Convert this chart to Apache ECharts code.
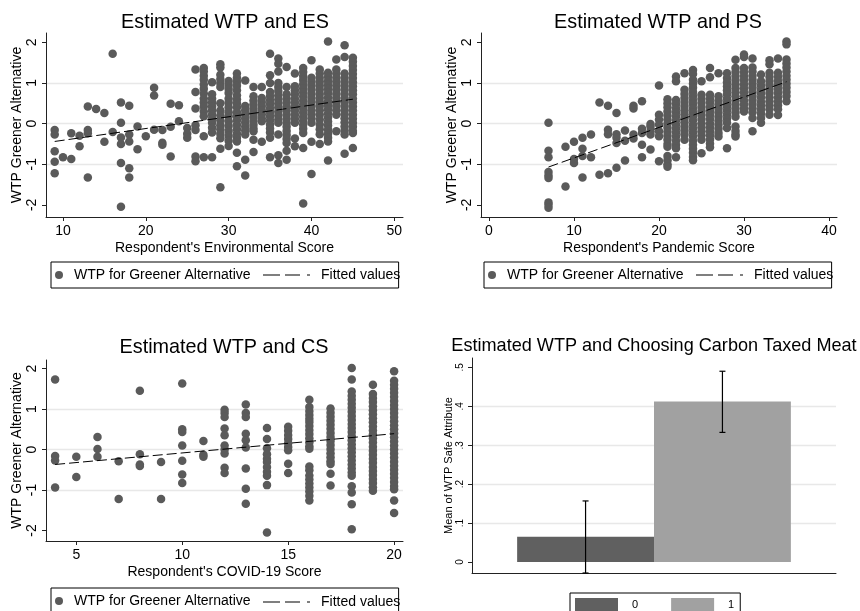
<!DOCTYPE html>
<html><head><meta charset="utf-8">
<script src="https://cdn.jsdelivr.net/npm/echarts@6/dist/echarts.min.js"></script>
<style>html,body{margin:0;padding:0;background:#fff}#c{width:860px;height:611px}</style>
</head><body><div id="c"></div>
<script>
// ---------- data ----------
const esScores = [9,10,11,12,13,14,15,16,17,18,19,20,21,22,23,24,25,26,27,28,29,30,31,32,33,34,35,36,37,38,39,40,41,42,43,44,45];
const esWtp = [
 [-0.16,-0.27,-0.68,-0.94,-1.22],
 [-0.83],
 [-0.24,-0.87],
 [-0.30,-0.56],
 [0.42,-0.16,-0.24,-1.33],
 [0.36],
 [0.26,-0.45],
 [1.72,-0.21],
 [0.52,0.02,-0.34,-0.50,-0.97,-2.05],
 [0.44,-0.27,-0.44,-1.10,-1.33],
 [-0.07,-0.63],
 [-0.31],
 [0.88,0.69,-0.15],
 [-0.16,-0.47,-0.52],
 [0.49,-0.08,-0.81],
 [0.45,0.06],
 [-0.11,-0.25,-0.35],
 [1.33,0.78,0.37,-0.04,-0.16,-0.81,-0.93],
 [1.37,1.28,1.18,1.08,0.96,0.86,0.74,0.62,0.52,0.42,0.30,0.18,-0.31,-0.83],
 [1.02,0.72,0.62,0.52,0.42,0.32,0.22,0.12,0.02,-0.10,-0.22,-0.83],
 [1.46,1.38,1.20,1.10,1.00,0.90,0.50,0.32,0.20,0.08,-0.04,-0.14,-0.25,-0.36,-0.62,-1.57],
 [1.05,0.95,0.85,0.75,0.62,0.52,0.40,0.28,0.18,0.06,-0.06,-0.18,-0.30,-0.42,-0.55],
 [1.23,1.13,1.03,0.93,0.82,0.70,0.60,0.50,0.40,0.28,0.18,0.08,-0.03,-0.14,-0.25,-0.35,-0.44,-0.72,-1.05],
 [1.06,0.43,0.33,0.23,0.13,0.03,-0.07,-0.17,-0.27,-0.89,-1.28],
 [0.90,0.67,0.57,0.47,0.37,0.27,0.17,0.07,-0.03,-0.12,-0.19,-0.40,-0.70],
 [0.90,0.63,0.53,0.43,0.33,0.23,0.13,0.06,-0.45],
 [1.72,1.19,1.00,0.78,0.68,0.58,0.48,0.38,0.28,0.18,0.08,-0.02,-0.12,-0.22,-0.35,-0.83],
 [1.60,1.47,1.28,1.00,0.90,0.80,0.70,0.60,0.50,0.40,0.30,0.20,0.10,0.02,-0.27,-0.78,-0.97],
 [1.39,0.90,0.72,0.62,0.52,0.42,0.32,0.22,0.12,0.02,-0.08,-0.18,-0.28,-0.38,-0.48,-0.67,-0.89],
 [1.23,0.92,0.82,0.72,0.62,0.52,0.42,0.32,0.22,0.12,0.02,-0.37,-0.56],
 [1.37,1.27,1.17,1.07,0.97,0.87,0.77,0.67,0.57,0.47,0.37,0.27,0.17,0.07,-0.03,-0.13,-0.23,-0.60,-1.97],
 [1.56,1.13,1.03,0.93,0.83,0.73,0.63,0.53,0.43,0.33,0.23,0.13,0.02,-0.45,-1.24],
 [1.33,1.23,1.13,1.03,0.93,0.83,0.73,0.63,0.53,0.43,0.33,0.22,0.10,-0.02,-0.14,-0.26,-0.50],
 [2.02,1.25,1.15,1.05,0.95,0.85,0.75,0.65,0.55,0.45,0.35,0.25,0.15,0.05,-0.05,-0.15,-0.25,-0.35,-0.44,-0.91],
 [1.58,1.33,1.23,1.13,1.03,0.93,0.83,0.73,0.63,0.53,0.43,0.33,0.22,-0.19],
 [1.93,1.64,1.23,1.13,1.03,0.93,0.83,0.73,0.63,0.53,0.43,0.33,0.23,0.13,0.03,-0.07,-0.17,-0.27,-0.74],
 [1.62,1.52,1.42,1.32,1.22,1.12,1.02,0.92,0.82,0.72,0.62,0.52,0.42,0.32,0.22,0.12,0.02,-0.08,-0.18,-0.23,-0.60]
];
const esFitX = [9, 45];
const esFitY = [-0.44, 0.60];

const psScores = [7,9,10,11,12,13,14,15,16,17,18,19,20,21,22,23,24,25,26,27,28,29,30,31,32,33,34,35];
const psWtp = [
 [0.02,-0.67,-0.83,-1.19,-1.28,-1.34,-1.94,-2.00,-2.07],
 [-0.57,-1.55],
 [-0.45,-0.87,-0.97],
 [-0.35,-0.62,-0.80,-1.33],
 [-0.27,-0.83],
 [0.52,-1.26],
 [0.44,-0.15,-0.26,-1.22],
 [0.26,-0.26,-0.35,-0.48,-1.09],
 [-0.17,-0.42,-0.91],
 [0.44,0.37,-0.27,-0.37],
 [0.55,-0.13,-0.23,-0.52,-0.83],
 [-0.01,-0.07,-0.19,-0.27,-0.64],
 [0.94,0.22,0.10,-0.02,-0.19,-0.31,-0.93],
 [0.60,0.50,0.40,0.30,0.20,0.10,0.00,-0.10,-0.20,-0.30,-0.40,-0.50,-0.57,-0.80,-0.90,-1.00,-1.06],
 [1.16,1.04,0.58,0.48,0.38,0.28,0.18,0.08,-0.02,-0.12,-0.22,-0.32,-0.42,-0.52,-0.61,-0.83],
 [1.24,0.83,0.73,0.63,0.53,0.43,0.33,0.23,0.13,0.03,-0.07,-0.17,-0.27,-0.40],
 [1.32,1.22,1.08,0.98,0.88,0.78,0.68,0.58,0.48,0.38,0.28,0.18,0.08,-0.02,-0.12,-0.22,-0.32,-0.42,-0.52,-0.62,-0.72,-0.82,-0.90],
 [1.04,0.71,0.61,0.51,0.41,0.31,0.21,0.11,0.01,-0.09,-0.19,-0.29,-0.40,-0.73],
 [1.37,1.14,0.71,0.61,0.51,0.41,0.31,0.21,0.11,0.01,-0.09,-0.19,-0.29,-0.39,-0.49,-0.58],
 [1.24,0.67,0.57,0.47,0.37,0.27,0.17,0.07,-0.03,-0.13,-0.23,-0.32],
 [1.24,1.12,1.02,0.92,0.82,0.72,0.62,0.52,0.42,0.32,0.22,0.12,0.02,-0.11,-0.61],
 [1.57,1.37,1.27,1.17,1.07,0.97,0.87,0.77,0.67,0.57,0.47,0.37,0.27,0.17,-0.07,-0.18,-0.27,-0.32],
 [1.70,1.64,1.37,1.27,1.17,1.07,0.97,0.87,0.77,0.67,0.57,0.47,0.37,0.30],
 [1.60,1.38,1.28,1.18,1.08,0.98,0.88,0.78,0.68,0.58,0.48,0.38,0.28,0.14,-0.19],
 [1.21,1.04,0.94,0.84,0.74,0.64,0.54,0.44,0.34,0.24,0.14,0.02],
 [1.56,1.46,1.25,1.15,1.05,0.95,0.85,0.75,0.65,0.55,0.45,0.35,0.22],
 [1.60,1.25,1.15,1.05,0.95,0.85,0.75,0.65,0.55,0.45,0.35,0.21],
 [2.02,1.95,1.58,1.48,1.38,1.28,1.18,1.08,0.98,0.88,0.78,0.68,0.55]
];
const psFitX = [7, 35];
const psFitY = [-1.07, 1.03];

const csScores = [4,5,6,7,8,9,10,11,12,13,14,15,16,17,18,19,20];
const csWtp = [
 [1.73,-0.16,-0.27,-0.94],
 [-0.18,-0.68],
 [0.31,0.01,-0.18],
 [-0.29,-1.22],
 [1.45,-0.12,-0.37,-0.41],
 [-0.31,-1.22],
 [1.63,0.50,0.43,0.10,-0.28,-0.62,-0.83],
 [0.21,-0.13,-0.18],
 [0.98,0.90,0.80,0.52,0.35,0.10,0.00,-0.10,-0.45,-0.58],
 [1.11,0.90,0.80,0.39,0.23,0.05,-0.47,-0.97,-1.34],
 [0.53,0.26,0.03,-0.12,-0.23,-0.31,-0.43,-0.55,-0.65,-0.88,-2.05],
 [0.56,0.46,0.36,0.26,0.16,0.06,-0.02,-0.35,-0.58],
 [1.23,1.05,0.95,0.85,0.76,0.68,0.58,0.48,0.38,0.28,0.18,0.08,0.02,-0.42,-0.51,-0.64,-0.74,-0.84,-0.94,-1.04,-1.14,-1.26],
 [1.01,0.91,0.81,0.71,0.61,0.51,0.41,0.31,0.21,0.11,0.01,-0.09,-0.19,-0.29,-0.36,-0.60,-0.89],
 [2.01,1.73,1.43,1.33,1.23,1.13,1.03,0.93,0.83,0.73,0.63,0.53,0.43,0.33,0.23,0.13,0.03,-0.07,-0.17,-0.27,-0.37,-0.47,-0.57,-0.65,-0.91,-1.06,-1.35,-1.97],
 [1.60,1.37,1.27,1.17,1.07,0.97,0.87,0.77,0.67,0.57,0.47,0.37,0.27,0.17,0.07,-0.03,-0.13,-0.23,-0.33,-0.43,-0.53,-0.63,-0.73,-0.83,-0.93,-1.02],
 [1.93,1.70,1.60,1.50,1.40,1.30,1.20,1.10,1.00,0.90,0.80,0.70,0.60,0.50,0.40,0.30,0.20,0.10,0.00,-0.10,-0.20,-0.30,-0.40,-0.50,-0.60,-0.70,-0.80,-0.90,-0.98,-1.26,-1.57]
];
const csFitX = [4, 20];
const csFitY = [-0.37, 0.39];

const meatGroups = ['0', '1'];
const meatMeans = [0.065, 0.412];
const meatCiLow = [-0.028, 0.333];
const meatCiHigh = [0.157, 0.490];

const wtpTicks = [-2, -1, 0, 1, 2];
const esTicks = [10, 20, 30, 40, 50];
const psTicks = [0, 10, 20, 30, 40];
const csTicks = [5, 10, 15, 20];
const meatTicks = [0, 0.1, 0.2, 0.3, 0.4, 0.5];
const meatTickLabels = ['0', '.1', '.2', '.3', '.4', '.5'];

const titles = ['Estimated WTP and ES', 'Estimated WTP and PS', 'Estimated WTP and CS', 'Estimated WTP and Choosing Carbon Taxed Meat'];
const xNames = ["Respondent's Environmental Score", "Respondent's Pandemic Score", "Respondent's COVID-19 Score"];
const yName = 'WTP Greener Alternative';
const yNameBar = 'Mean of WTP Safe Attribute';
const scatterName = 'WTP for Greener Alternative';
const fitName = 'Fitted values';

// ---------- build ----------
const FONT = "'Liberation Sans', Arial, Helvetica, sans-serif";
const PT = '#5a5a5a';
function pts(scores, wtp) { const o = []; scores.forEach((s, i) => wtp[i].forEach(v => o.push([s, v]))); return o; }
function fit(xs, ys) { return xs.map((x, i) => [x, ys[i]]); }

const grids = [
  {left: 46, top: 33, width: 357, height: 184},
  {left: 481, top: 33, width: 356, height: 184},
  {left: 46, top: 360, width: 357, height: 181},
  {left: 472, top: 358, width: 364, height: 215}
];
const xr = [[7.95, 51.05], [-0.94, 40.94], [3.57, 20.42]];
const yr = [[-2.30, 2.23], [-2.30, 2.23], [-2.26, 2.21]];
const xt = [esTicks, psTicks, csTicks];
const axisLine = {onZero: false, lineStyle: {color: '#222', width: 1}};

const xAxis = [], yAxis = [], series = [];
for (let i = 0; i < 3; i++) {
  xAxis.push({type: 'value', gridIndex: i, min: xr[i][0], max: xr[i][1],
    name: xNames[i], nameLocation: 'middle', nameGap: 24,
    nameTextStyle: {fontSize: 14, color: '#000', fontFamily: FONT},
    axisLine: axisLine, splitLine: {show: false},
    axisTick: {customValues: xt[i], length: 4, lineStyle: {color: '#222'}},
    axisLabel: {customValues: xt[i], fontSize: 14, color: '#000', fontFamily: FONT, margin: 7}});
  yAxis.push({type: 'value', gridIndex: i, min: yr[i][0], max: yr[i][1], splitNumber: 5,
    name: yName, nameLocation: 'middle', nameGap: 14,
    nameTextStyle: {fontSize: 14, color: '#000', fontFamily: FONT},
    axisLine: {show: true, onZero: false, lineStyle: {color: '#222', width: 1}},
    splitLine: {show: true, showMinLine: false, showMaxLine: false, lineStyle: {color: '#e8e8e8', width: 1.3}},
    axisTick: {show: true, customValues: wtpTicks, length: 4, lineStyle: {color: '#222'}},
    axisLabel: {customValues: wtpTicks, rotate: 90, fontSize: 14, color: '#000', fontFamily: FONT, margin: 7}});
}
const sets = [[esScores, esWtp, esFitX, esFitY], [psScores, psWtp, psFitX, psFitY], [csScores, csWtp, csFitX, csFitY]];
sets.forEach((s, i) => {
  series.push({type: 'scatter', name: scatterName, xAxisIndex: i, yAxisIndex: i, data: pts(s[0], s[1]),
    symbol: 'circle', symbolSize: 8.5, itemStyle: {color: PT, opacity: 1}, silent: true, z: 2});
  series.push({type: 'line', name: fitName, xAxisIndex: i, yAxisIndex: i, data: fit(s[2], s[3]),
    symbol: 'none', showSymbol: false, silent: true, z: 3,
    lineStyle: {color: '#000', width: 1, type: [10, 4]}, itemStyle: {color: '#000'}});
});

// bar panel
xAxis.push({type: 'category', gridIndex: 3, data: [''], boundaryGap: true,
  axisLine: axisLine, axisTick: {show: false}, axisLabel: {show: false}, splitLine: {show: false}});
yAxis.push({type: 'value', gridIndex: 3, min: -0.028, max: 0.524, splitNumber: 5,
  name: yNameBar, nameLocation: 'middle', nameGap: 15,
  nameTextStyle: {fontSize: 11, color: '#000', fontFamily: FONT},
  axisLine: {show: true, onZero: false, lineStyle: {color: '#222', width: 1}},
  splitLine: {show: true, showMinLine: false, showMaxLine: false, lineStyle: {color: '#e8e8e8', width: 1.3}},
  axisTick: {show: true, customValues: meatTicks, length: 4, lineStyle: {color: '#222'}},
  axisLabel: {customValues: meatTicks, rotate: 90, fontSize: 10, color: '#000', fontFamily: FONT, margin: 7,
    formatter: v => { const k = meatTicks.findIndex(t => Math.abs(t - v) < 1e-9); return k >= 0 ? meatTickLabels[k] : ''; }}});
const barColors = ['#606060', '#a1a1a1'];
const BAR_FRAC = 0.376;
meatGroups.forEach((g, i) => {
  series.push({type: 'bar', name: g, xAxisIndex: 3, yAxisIndex: 3, data: [meatMeans[i]],
    barWidth: (BAR_FRAC * 100) + '%', barGap: '0%', itemStyle: {color: barColors[i]}, silent: true, z: 2});
});
series.push({type: 'custom', name: 'ci', xAxisIndex: 3, yAxisIndex: 3, silent: true, z: 4, clip: false,
  data: meatGroups.map((g, i) => [0, meatCiLow[i], meatCiHigh[i], i]),
  encode: {x: 0, y: [1, 2]},
  renderItem: function (params, api) {
    const gi = api.value(3);
    const band = api.size([1, 0])[0];
    const off = (gi === 0 ? -1 : 1) * band * BAR_FRAC / 2;
    const lo = api.coord([api.value(0), api.value(1)]);
    const hi = api.coord([api.value(0), api.value(2)]);
    const x = lo[0] + off, c = 3;
    const st = {stroke: '#000', lineWidth: 1.2};
    return {type: 'group', children: [
      {type: 'line', shape: {x1: x, y1: lo[1], x2: x, y2: hi[1]}, style: st},
      {type: 'line', shape: {x1: x - c, y1: lo[1], x2: x + c, y2: lo[1]}, style: st},
      {type: 'line', shape: {x1: x - c, y1: hi[1], x2: x + c, y2: hi[1]}, style: st}
    ]};
  }});

// legends
const legText = {fontSize: 14, color: '#000', fontFamily: FONT, padding: [0, 0, 0, 6]};
const dashIcon = 'path://M0,0H17V1.2H0Z M22,0H37V1.2H22Z M44,0H47V1.2H44Z';
const legA = [[51, 262], [484, 262], [51, 588]];
const legB = [[263, 268], [696, 268], [263, 595]];
const legend = [];
for (let i = 0; i < 3; i++) {
  legend.push({data: [scatterName], left: legA[i][0], top: legA[i][1], icon: 'circle', itemWidth: 8, itemHeight: 8,
    padding: [6, 148, 6, 4], borderColor: '#000', borderWidth: 1, selectedMode: false, textStyle: legText});
  legend.push({data: [{name: fitName, icon: dashIcon, itemStyle: {color: '#000'}}], left: legB[i][0], top: legB[i][1],
    itemWidth: 47, itemHeight: 1.2, padding: 0, selectedMode: false, textStyle: legText});
}
legend.push({data: meatGroups, left: 570, top: 593, icon: 'rect', itemWidth: 43, itemHeight: 14, itemGap: 33,
  padding: [5, 6, 5, 5], borderColor: '#000', borderWidth: 1, selectedMode: false,
  textStyle: {fontSize: 11, color: '#000', fontFamily: FONT, padding: [0, 0, 0, 9]}});

const titlePos = [[225, 13], [658, 13], [224, 338], [654, 337]];
const titleSize = [19.8, 19.8, 19.8, 18.1];
const title = titles.map((t, i) => ({text: t, left: titlePos[i][0], top: titlePos[i][1], textAlign: 'center', padding: 0,
  textStyle: {fontSize: titleSize[i], fontWeight: 'normal', color: '#000', fontFamily: FONT}}));

const chart = echarts.init(document.getElementById('c'), null, {renderer: 'canvas'});
chart.setOption({animation: false, backgroundColor: '#fff', title, grid: grids, xAxis, yAxis, legend, series});
</script></body></html>
